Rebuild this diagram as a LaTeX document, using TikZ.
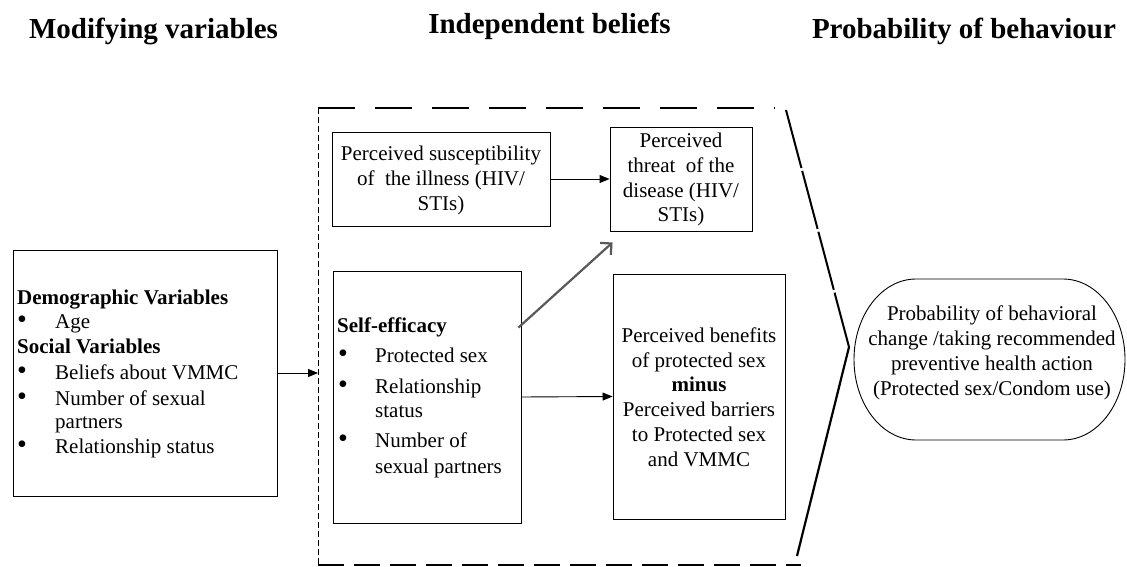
\documentclass[tikz,border=0pt]{standalone}
\usepackage{fontspec}
\setmainfont{Liberation Serif}
\usetikzlibrary{arrows.meta}
\begin{document}
\begin{tikzpicture}[x=1pt,y=-1pt,
  txt/.style={font=\fontsize{21}{24.8}\selectfont, inner sep=0pt},
  btxt/.style={font=\fontsize{21}{24.8}\selectfont\bfseries, inner sep=0pt},
  bul/.style={font=\fontsize{28}{28}\selectfont, inner sep=0pt, anchor=center},
  ttl/.style={font=\fontsize{29}{34}\selectfont\bfseries, inner sep=0pt, anchor=base},
  boxn/.style={draw, line width=0.9pt, inner sep=0pt, align=center, font=\fontsize{21}{24.8}\selectfont},
  arr/.style={line width=0.9pt, -{Triangle[length=10pt,width=8pt]}},
  garr/.style={draw=black!65, line width=2.2pt, -{Straight Barb[length=8pt,width=16pt]}},
]
\useasboundingbox (0,0) rectangle (1127,567);

% titles
\node[ttl] (t1) at (153.5,39) {Modifying variables};
\node[ttl] (t2) at (549.5,34) {Independent beliefs};
\node[ttl] (t3) at (964,39) {Probability of behaviour};

% dashed frame
\coordinate (fTL) at (318,108);
\coordinate (fTR) at (775,108);
\coordinate (fR1) at (786,110);
\coordinate (fApex) at (849,347);
\coordinate (fR2) at (797,556);
\coordinate (fBL) at (318,565);
\coordinate (fBR) at (801,565);
\coordinate (fIn) at (318,373);
\draw[line width=1pt, dash pattern=on 6pt off 3pt] (fTL) -- (fBL);
\draw[line width=2.2pt, dash pattern=on 37pt off 20pt] (fTL) -- (fTR);
\draw[line width=2.5pt, dash pattern=on 26pt off 10pt] (fBL) -- (fBR);
\draw[line width=2pt, dash pattern=on 60pt off 3pt] (fR1) -- (fApex);
\draw[line width=2.2pt] (fApex) -- (fR2);

% modifying variables box
\node[boxn, minimum width=264pt, minimum height=246pt] (demo) at (145,373) {};
\node[btxt, anchor=base west] (d1) at (17,304) {Demographic Variables};
\node[bul] (b1) at (22,322) {•};
\node[txt, anchor=base west] (d2) at (55,328) {Age};
\node[btxt, anchor=base west] (d3) at (17,353) {Social Variables};
\node[bul] (b2) at (22,373) {•};
\node[txt, anchor=base west] (d4) at (55,379) {Beliefs about VMMC};
\node[bul] (b3) at (22,399) {•};
\node[txt, anchor=base west] (d5) at (55,405) {Number of sexual};
\node[txt, anchor=base west] (d6) at (55,428) {partners};
\node[bul] (b4) at (22,447) {•};
\node[txt, anchor=base west] (d7) at (55,453) {Relationship status};

% self-efficacy box
\node[boxn, minimum width=188pt, minimum height=252pt] (self) at (427,397) {};
\node[btxt, anchor=base west] (s1) at (337,332) {Self-efficacy};
\node[bul] (sb1) at (343,356) {•};
\node[txt, anchor=base west] (s2) at (375,362) {Protected sex};
\node[bul] (sb2) at (343,387) {•};
\node[txt, anchor=base west] (s3) at (375,393) {Relationship};
\node[txt, anchor=base west] (s4) at (375,417) {status};
\node[bul] (sb3) at (343,441) {•};
\node[txt, anchor=base west] (s5) at (375,447) {Number of};
\node[txt, anchor=base west] (s6) at (375,473) {sexual partners};

% susceptibility
\node[boxn, minimum width=218pt, minimum height=94pt] (susc) at (441,179)
  {\rule{0pt}{18pt}Perceived susceptibility\\of\ \ the illness (HIV/\\STIs)};
% threat
\node[boxn, minimum width=142pt, minimum height=104pt] (threat) at (681,179)
  {\rule{0pt}{16pt}Perceived\\threat\ \ of the\\disease (HIV/\\STIs)};
% benefits
\node[boxn, minimum width=172pt, minimum height=245pt] (benef) at (699,396.5)
  {\rule{0pt}{16pt}Perceived benefits\\of protected sex\\\textbf{minus}\\Perceived barriers\\to Protected sex\\and VMMC};

% probability outline
\draw[line width=0.9pt] (916,279) -- (1063,279)
  .. controls (1097.2,279) and (1125,315) .. (1125,359.5)
  .. controls (1125,404) and (1097.2,440) .. (1063,440)
  -- (916,440)
  .. controls (881.8,440) and (854,404) .. (854,359.5)
  .. controls (854,315) and (881.8,279) .. (916,279) -- cycle;
\node[txt, align=center] (prob) at (992,353)
  {Probability of behavioral\\change /taking recommended\\preventive health action\\(Protected sex/Condom use)};

% connectors
\draw[arr] (demo.east) -- (fIn);
\draw[arr] (susc.east) -- (threat.west);
\draw[arr] (self.east) -- (benef.west);
\draw[garr] ([xshift=-3pt,yshift=-57pt]self.north east) -- ([xshift=3pt,yshift=-11pt]threat.south west);
\end{tikzpicture}
\end{document}
